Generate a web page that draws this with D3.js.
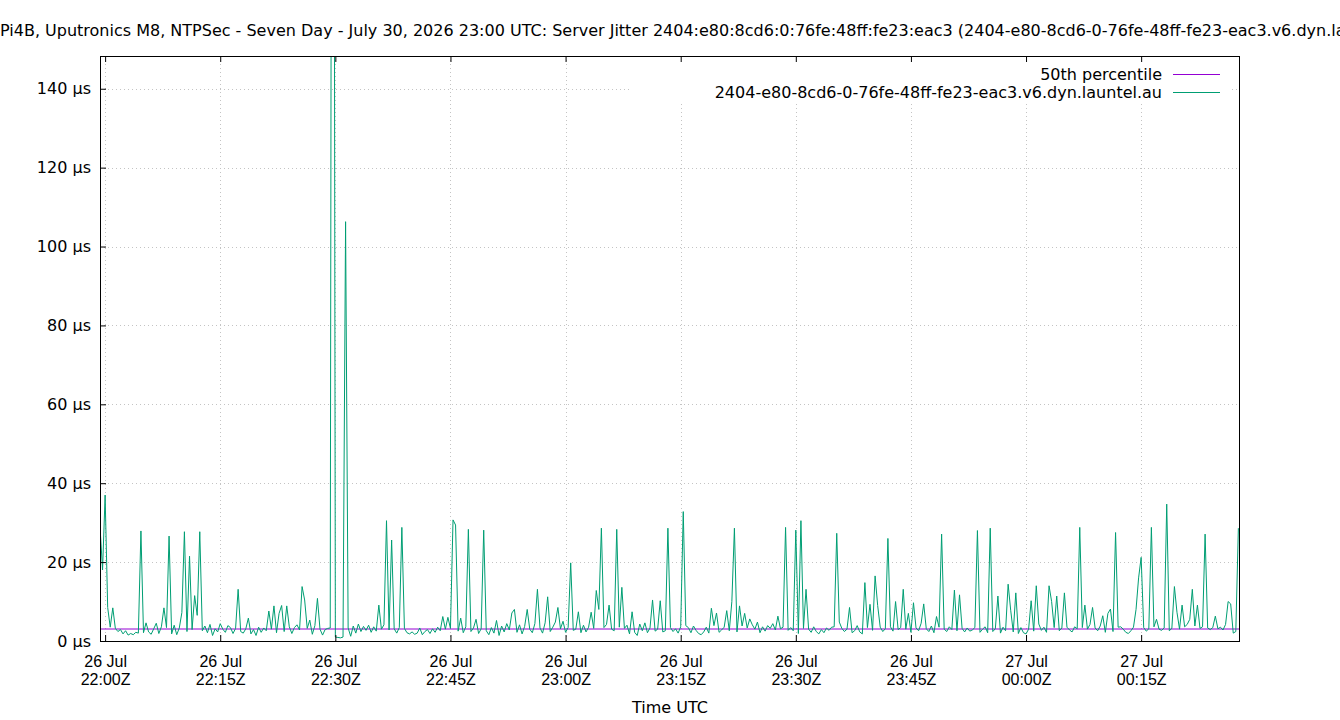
<!DOCTYPE html>
<html>
<head>
<meta charset="utf-8">
<script src="https://cdn.jsdelivr.net/npm/d3@7"></script>
<style>
  body { margin: 0; background: #fff; }
  svg { display: block; font-family: "DejaVu Sans", sans-serif; }
</style>
</head>
<body>
<svg width="1340" height="720"></svg>
<script>
const titleText = "Pi4B, Uputronics M8, NTPSec - Seven Day - July 30, 2026 23:00 UTC: Server Jitter 2404:e80:8cd6:0:76fe:48ff:fe23:eac3 (2404-e80-8cd6-0-76fe-48ff-fe23-eac3.v6.dyn.launtel.au)";
const seriesNames = ["50th percentile", "2404-e80-8cd6-0-76fe-48ff-fe23-eac3.v6.dyn.launtel.au"];
const xLabel = "Time UTC";

// samples every 20 s starting 26 Jul 21:59:20Z
const sampleStart = Date.UTC(2026, 6, 26, 21, 59, 20);
const sampleStepSec = 20;

// server jitter, µs
const jitter = [
  29, 18, 37, 8.5, 3.5, 8.4, 3.2, 2.4, 2.9, 1.8,
  2.6, 1.5, 1.9, 1.6, 2.2, 2.0, 27.9, 2.1, 4.6, 2.3,
  1.7, 3.1, 4.5, 1.9, 3.6, 8.4, 3.4, 26.6, 1.8, 4.0,
  1.6, 3.3, 7.2, 27.7, 2.4, 21.5, 2.9, 11.5, 6.5, 27.7,
  2.6, 3.8, 2.1, 4.2, 1.4, 3.1, 2.3, 4.4, 3.0, 2.2,
  3.9, 3.4, 1.9, 3.2, 13.1, 2.4, 2.0, 3.1, 5.8, 1.8,
  2.9, 1.4, 3.5, 2.2, 3.3, 2.6, 7.6, 3.0, 8.9, 2.1,
  7.0, 9.0, 2.4, 8.9, 3.6, 1.9, 3.4, 4.1, 2.8, 13.8,
  10.4, 3.2, 5.3, 1.7, 3.9, 10.8, 3.0, 1.5, 2.9, 3.2,
  3.3, 450, 1.0, 0.9, 0.8, 1.0, 106.3, 3.3, 1.2, 3.8,
  2.0, 4.3, 2.4, 3.7, 2.7, 4.0, 2.2, 3.6, 2.5, 9.1,
  3.0, 4.1, 30.5, 2.8, 25.6, 3.1, 2.0, 3.4, 28.8, 3.2,
  2.1, 1.8, 2.3, 1.7, 2.0, 3.3, 1.6, 2.4, 2.9, 1.9,
  3.1, 2.2, 3.5, 2.6, 6.2, 3.0, 6.0, 3.2, 30.7, 29.4,
  2.5, 5.8, 2.1, 3.6, 28.3, 2.4, 3.3, 5.5, 1.9, 3.1,
  28.1, 2.6, 1.6, 3.4, 2.0, 5.2, 1.4, 3.8, 2.3, 4.4,
  2.8, 7.1, 8.0, 2.2, 4.1, 1.8, 3.7, 8.0, 3.0, 2.1,
  4.4, 13.1, 3.3, 2.0, 4.6, 11.2, 2.4, 3.5, 4.8, 8.5,
  3.1, 5.0, 2.2, 3.4, 19.8, 2.7, 3.0, 7.4, 2.1, 4.0,
  2.3, 3.5, 7.3, 3.2, 12.8, 8.0, 28.6, 3.4, 4.2, 9.1,
  3.0, 2.6, 28.3, 3.5, 13.6, 3.2, 4.0, 1.8, 7.4, 2.2,
  1.4, 4.3, 2.6, 4.6, 2.1, 3.3, 10.4, 2.5, 3.0, 10.2,
  2.3, 2.6, 28.6, 3.4, 2.4, 3.1, 2.0, 3.6, 32.8, 3.9,
  3.4, 2.1, 3.8, 2.7, 1.9, 1.6, 2.3, 3.5, 2.0, 8.3,
  3.9, 7.1, 2.2, 2.8, 3.5, 7.7, 2.6, 10.0, 28.6, 2.3,
  8.9, 3.8, 7.0, 3.3, 5.6, 4.1, 3.0, 4.8, 2.1, 3.6,
  2.5, 3.9, 3.2, 4.4, 2.8, 6.3, 3.1, 3.5, 28.8, 2.7,
  3.4, 2.6, 28.1, 1.9, 30.5, 3.2, 13.1, 3.0, 2.2, 3.6,
  2.4, 1.8, 2.9, 2.1, 3.3, 2.7, 3.5, 3.6, 27.3, 4.8,
  3.2, 2.4, 3.0, 8.5, 2.1, 2.6, 3.9, 2.3, 1.8, 14.8,
  3.4, 9.3, 2.7, 16.5, 9.0, 3.5, 2.4, 3.1, 26.0, 3.6,
  2.5, 10.0, 2.9, 3.4, 13.1, 3.0, 7.0, 2.2, 9.7, 3.3,
  2.6, 4.5, 9.4, 3.1, 2.4, 3.8, 2.1, 6.2, 3.5, 27.1,
  3.0, 2.4, 3.6, 2.9, 12.9, 2.6, 11.7, 3.2, 2.3, 3.3,
  2.5, 2.8, 3.4, 28.0, 2.2, 3.0, 3.6, 2.1, 28.6, 2.4,
  3.1, 11.4, 2.0, 3.5, 2.6, 14.4, 7.8, 2.3, 12.2, 1.9,
  3.4, 2.1, 1.8, 3.0, 10.2, 2.5, 14.0, 4.3, 2.7, 3.5,
  2.2, 14.0, 10.0, 3.4, 11.4, 2.6, 3.3, 12.2, 3.5, 2.8,
  2.3, 3.6, 3.1, 28.8, 3.4, 9.1, 3.0, 4.2, 8.5, 3.3,
  2.6, 3.8, 6.4, 2.2, 7.0, 8.1, 2.4, 27.5, 3.5, 3.6,
  3.0, 2.2, 1.9, 2.6, 3.5, 8.0, 16.0, 21.2, 3.4, 2.5,
  3.1, 28.8, 3.6, 5.5, 3.0, 2.7, 3.3, 34.7, 2.6, 3.2,
  13.8, 7.3, 3.0, 9.1, 3.6, 4.2, 5.5, 13.1, 3.8, 9.1,
  3.2, 3.6, 27.1, 3.3, 2.9, 3.4, 6.3, 3.1, 3.5, 2.8,
  4.2, 10.0, 9.4, 2.0, 2.4, 28.6
];
const median = 3.04; // 50th percentile, µs

const yTicks = [0, 20, 40, 60, 80, 100, 120, 140];
const xTicks = [
  Date.UTC(2026, 6, 26, 22, 0), Date.UTC(2026, 6, 26, 22, 15),
  Date.UTC(2026, 6, 26, 22, 30), Date.UTC(2026, 6, 26, 22, 45),
  Date.UTC(2026, 6, 26, 23, 0), Date.UTC(2026, 6, 26, 23, 15),
  Date.UTC(2026, 6, 26, 23, 30), Date.UTC(2026, 6, 26, 23, 45),
  Date.UTC(2026, 6, 27, 0, 0), Date.UTC(2026, 6, 27, 0, 15)
];
const xDomain = [Date.UTC(2026, 6, 26, 21, 59, 20), Date.UTC(2026, 6, 27, 0, 27, 45)];
const yDomain = [0, 148.3];

const margin = { top: 56, right: 101, bottom: 79, left: 100 };
const W = 1340, H = 720;
const width = W - margin.left - margin.right;
const height = H - margin.top - margin.bottom;
const fontSize = 16;
const green = "#009e73", purple = "#9400d3";

const svg = d3.select("svg");

// title (runs off the canvas on both sides, as in the original)
svg.append("text")
  .attr("x", 0).attr("y", 36)
  .style("font-size", fontSize + "px")
  .attr("fill", "#000")
  .text(titleText);

const g = svg.append("g").attr("transform", `translate(${margin.left},${margin.top})`);

const x = d3.scaleUtc().domain(xDomain).range([0, width]);
const y = d3.scaleLinear().domain(yDomain).range([height, 0]);

const points = jitter.map((v, i) => ({ t: sampleStart + i * sampleStepSec * 1000, v }));

// grid
const grid = g.append("g").attr("stroke", "#c4c4c4").attr("stroke-width", 1).attr("stroke-dasharray", "1,3");
grid.selectAll(".gx").data(xTicks).join("line")
  .attr("x1", d => Math.round(x(d)) + 0.5).attr("x2", d => Math.round(x(d)) + 0.5)
  .attr("y1", 0).attr("y2", height);
grid.selectAll(".gy").data(yTicks.filter(d => d > 0)).join("line")
  .attr("x1", 0).attr("x2", width)
  .attr("y1", d => Math.round(y(d)) + 0.5).attr("y2", d => Math.round(y(d)) + 0.5);

// opaque key box
g.append("rect")
  .attr("x", 532).attr("y", 1).attr("width", 598).attr("height", 44)
  .attr("fill", "#fff");

// data
g.append("clipPath").attr("id", "plot-clip")
  .append("rect").attr("width", width).attr("height", height);

const plot = g.append("g").attr("clip-path", "url(#plot-clip)");

plot.append("line")
  .attr("x1", 0).attr("x2", width)
  .attr("y1", y(median)).attr("y2", y(median))
  .attr("stroke", purple).attr("stroke-width", 1);

plot.append("path")
  .datum(points)
  .attr("fill", "none")
  .attr("stroke", green)
  .attr("stroke-width", 1)
  .attr("d", d3.line().x(d => x(d.t)).y(d => y(d.v)));

// axes
const xAxis = g.append("g")
  .attr("transform", `translate(0,${height})`)
  .call(d3.axisBottom(x).tickValues(xTicks).tickSizeInner(-6).tickSizeOuter(0).tickFormat(""));
xAxis.select(".domain").remove();
xAxis.selectAll(".tick line").attr("stroke", "#000");
xAxis.selectAll(".tick").each(function (d) {
  const t = d3.select(this).append("text")
    .attr("fill", "#000")
    .attr("text-anchor", "middle")
    .style("font-size", fontSize + "px");
  t.append("tspan").attr("x", 0).attr("y", 26).text(d3.utcFormat("%-d %b")(d));
  t.append("tspan").attr("x", 0).attr("y", 44).text(d3.utcFormat("%H:%MZ")(d));
});

// mirrored ticks on top
const xTop = g.append("g")
  .call(d3.axisTop(x).tickValues(xTicks).tickSizeInner(-6).tickSizeOuter(0).tickFormat(""));
xTop.select(".domain").remove();
xTop.selectAll(".tick line").attr("stroke", "#000");

const yAxis = g.append("g")
  .call(d3.axisLeft(y).tickValues(yTicks).tickSizeInner(-6).tickSizeOuter(0).tickPadding(9)
    .tickFormat(d => d + " µs"));
yAxis.select(".domain").remove();
yAxis.selectAll(".tick line").attr("stroke", "#000");
yAxis.selectAll(".tick text").attr("fill", "#000").style("font-size", fontSize + "px")
  .style("font-family", "DejaVu Sans, sans-serif");

// border
g.append("rect")
  .attr("x", 0.5).attr("y", 0.5).attr("width", width).attr("height", height)
  .attr("fill", "none").attr("stroke", "#000").attr("stroke-width", 1);

// key
const keyColors = [purple, green];
const key = g.append("g");
seriesNames.forEach((name, i) => {
  const ky = 18 + i * 18;
  key.append("text")
    .attr("x", 1062).attr("y", ky).attr("dy", "0.35em")
    .attr("text-anchor", "end")
    .style("font-size", fontSize + "px")
    .attr("fill", "#000")
    .text(name);
  key.append("line")
    .attr("x1", 1073).attr("x2", 1120)
    .attr("y1", ky + 0.5).attr("y2", ky + 0.5)
    .attr("stroke", keyColors[i]).attr("stroke-width", 1);
});

// x axis title
svg.append("text")
  .attr("x", 670).attr("y", 713)
  .attr("text-anchor", "middle")
  .style("font-size", fontSize + "px")
  .attr("fill", "#000")
  .text(xLabel);
</script>
</body>
</html>
